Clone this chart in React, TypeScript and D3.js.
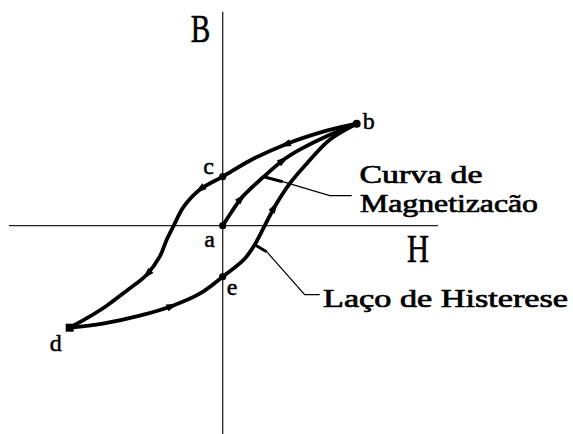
import React from "react";
import * as d3 from "d3";

// Data in (H, B) units
const upperBranch: [number, number][] = [
  [1.34, 1.02], [1.04, 0.95], [0.62, 0.81], [0.27, 0.65], [0.0, 0.49],
  [-0.23, 0.36], [-0.39, 0.19], [-0.49, 0.0], [-0.56, -0.14], [-0.63, -0.31],
  [-0.76, -0.49], [-0.96, -0.65], [-1.16, -0.8], [-1.35, -0.92], [-1.53, -1.02],
];
const lowerBranch: [number, number][] = [
  [-1.53, -1.02], [-1.2, -0.98], [-0.83, -0.9], [-0.5, -0.8],
  [-0.23, -0.68], [0.0, -0.51], [0.22, -0.33], [0.32, -0.19], [0.42, 0.0],
  [0.52, 0.19], [0.67, 0.42], [0.84, 0.62], [1.07, 0.86], [1.34, 1.02],
];
const magCurve: [number, number][] = [
  [0, 0], [0.09, 0.14], [0.19, 0.28], [0.41, 0.49], [0.61, 0.66],
  [0.77, 0.76], [1.05, 0.9], [1.34, 1.02],
];
const upperArrows = [2, 5, 10];
const lowerArrows = [3, 9];
const magArrows = [2, 4];

const pointLabels = ["a", "b", "c", "d", "e"];
const pointValues: [number, number][] = [
  [0, 0], [1.34, 1.02], [0, 0.49], [-1.53, -1.02], [0, -0.51],
];
const axisLabels = ["H", "B"];
const curveLabelLines = ["Curva de", "Magnetizacão"];
const loopLabel = "Laço de Histerese";
const curveLeaderStub: [number, number][] = [[0.41, 0.49], [0.6, 0.44]];
const curveLeader: [number, number][] = [[0.6, 0.44], [1.07, 0.3], [1.29, 0.3]];
const loopLeaderStub: [number, number][] = [[0.32, -0.19], [0.44, -0.26]];
const loopLeader: [number, number][] = [[0.44, -0.26], [0.82, -0.69], [0.97, -0.69]];

const W = 573;
const H = 434;
const x = d3.scaleLinear().domain([-2.137, 2.153]).range([9, 438]);
const y = d3.scaleLinear().domain([-2.083, 2.14]).range([434, 11.7]);

const curveGen = d3
  .line<[number, number]>()
  .x((d) => x(d[0]))
  .y((d) => y(d[1]))
  .curve(d3.curveCatmullRom.alpha(0.5));
const straight = d3
  .line<[number, number]>()
  .x((d) => x(d[0]))
  .y((d) => y(d[1]));

function arrowPath(pts: [number, number][], i: number) {
  const p = pts[i];
  const a = pts[Math.max(0, i - 1)];
  const b = pts[Math.min(pts.length - 1, i + 1)];
  const dx = x(b[0]) - x(a[0]);
  const dy = y(b[1]) - y(a[1]);
  const ang = (Math.atan2(dy, dx) * 180) / Math.PI;
  return (
    <path
      key={i}
      d="M6,0 L-6,-3.6 L-6,3.6 Z"
      fill="#000"
      transform={`translate(${x(p[0])},${y(p[1])}) rotate(${ang})`}
    />
  );
}

const serif = "'Liberation Serif', 'DejaVu Serif', serif";

export default function App() {
  const lbl = (i: number) => pointValues[i];
  return (
    <svg
      width={W}
      height={H}
      style={{ position: "absolute", left: 0, top: 0, background: "#fff" }}
    >
      {/* axes */}
      <line x1={x(-2.137)} x2={x(2.153)} y1={y(0)} y2={y(0)} stroke="#222" strokeWidth={1.3} />
      <line x1={x(0)} x2={x(0)} y1={y(2.14)} y2={y(-2.083)} stroke="#222" strokeWidth={1.3} />

      {/* curves */}
      <g fill="none" stroke="#000" strokeWidth={3.8} strokeLinejoin="round" strokeLinecap="round">
        <path d={curveGen(upperBranch) || ""} />
        <path d={curveGen(lowerBranch) || ""} />
        <path d={curveGen(magCurve) || ""} />
      </g>
      {upperArrows.map((i) => arrowPath(upperBranch, i))}
      {lowerArrows.map((i) => arrowPath(lowerBranch, i))}
      {magArrows.map((i) => arrowPath(magCurve, i))}

      {/* points */}
      {pointValues.map((p, i) =>
        pointLabels[i] === "d" ? (
          <rect key={i} x={x(p[0]) - 4} y={y(p[1]) - 4} width={8} height={8} fill="#000" />
        ) : (
          <circle key={i} cx={x(p[0])} cy={y(p[1])} r={pointLabels[i] === "b" ? 4 : 3.6} fill="#000" />
        )
      )}

      {/* leaders */}
      <path d={straight(curveLeaderStub) || ""} stroke="#000" strokeWidth={3} fill="none" />
      <path d={straight(curveLeader) || ""} stroke="#000" strokeWidth={1.2} fill="none" />
      <path d={straight(loopLeaderStub) || ""} stroke="#000" strokeWidth={3} fill="none" />
      <path d={straight(loopLeader) || ""} stroke="#000" strokeWidth={1.2} fill="none" />

      {/* point labels */}
      <g fontFamily={serif} fontSize={24} fill="#000" stroke="#000" strokeWidth={0.5}>
        <text x={x(lbl(0)[0]) - 18.5} y={y(lbl(0)[1]) + 21}>{pointLabels[0]}</text>
        <text x={x(lbl(1)[0]) + 6} y={y(lbl(1)[1]) + 5}>{pointLabels[1]}</text>
        <text x={x(lbl(2)[0]) - 19.5} y={y(lbl(2)[1]) - 3}>{pointLabels[2]}</text>
        <text x={x(lbl(3)[0]) - 20} y={y(lbl(3)[1]) + 23}>{pointLabels[3]}</text>
        <text x={x(lbl(4)[0]) + 4} y={y(lbl(4)[1]) + 18}>{pointLabels[4]}</text>
      </g>

      {/* axis labels */}
      <g fontFamily={serif} fontSize={39} fill="#000" stroke="#000" strokeWidth={0.6}>
        <text x={407} y={261.7} textLength={22} lengthAdjust="spacingAndGlyphs">{axisLabels[0]}</text>
        <text x={190.7} y={41.7} textLength={19.5} lengthAdjust="spacingAndGlyphs">{axisLabels[1]}</text>
      </g>

      {/* annotations */}
      <g fontFamily={serif} fontSize={25} fill="#000" stroke="#000" strokeWidth={0.7}>
        <text x={359.5} y={183.3} textLength={123} lengthAdjust="spacingAndGlyphs">{curveLabelLines[0]}</text>
        <text x={360} y={211.7} textLength={178} lengthAdjust="spacingAndGlyphs">{curveLabelLines[1]}</text>
        <text x={323} y={306.7} textLength={245} lengthAdjust="spacingAndGlyphs">{loopLabel}</text>
      </g>
    </svg>
  );
}
